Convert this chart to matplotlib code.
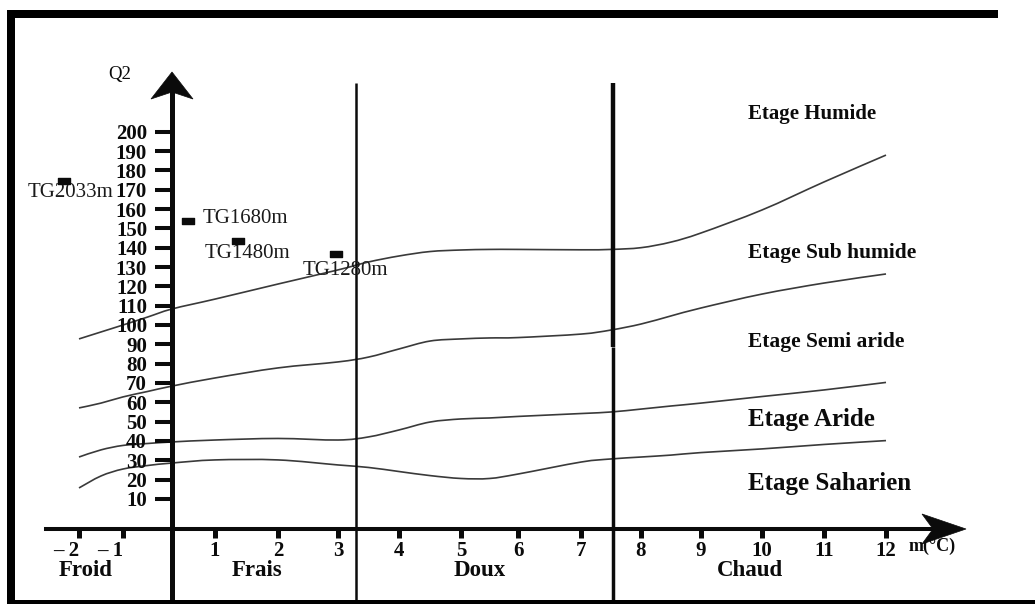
import numpy as np
import matplotlib
matplotlib.use("Agg")
import matplotlib.pyplot as plt
from matplotlib.patches import Rectangle, Polygon, PathPatch
from matplotlib.transforms import ScaledTranslation
from matplotlib.path import Path

# ---------------------------------------------------------------
# Emberger climagram: pluviothermic quotient Q2 against m (°C)
# ---------------------------------------------------------------
q2_ticks = list(range(10, 210, 10))
m_ticks = [-2, -1, 1, 2, 3, 4, 5, 6, 7, 8, 9, 10, 11, 12]
m_tick_labels = ["– 2", "– 1", "1", "2", "3", "4", "5", "6", "7", "8",
                 "9", "10", "11", "12"]

# bioclimatic stage limits, sampled along m
curve_m = [-2, -1.5, -1, -0.5, 0, 1, 2, 3, 3.5, 4, 4.5, 5, 5.5, 6,
           7, 7.5, 8, 8.5, 9, 10, 11, 12]
limit_humide = [92.8, 96.4, 100.0, 104.1, 108.3, 113.4, 121.2, 128.5, 132.6,
                135.7, 138.0, 138.8, 139.1, 139.1, 138.9, 139.1, 140.0,
                142.9, 147.6, 159.5, 174.0, 187.9]
limit_subhumide = [57.1, 59.6, 62.8, 65.6, 68.4, 72.6, 77.8, 80.9, 83.4,
                   87.6, 91.7, 92.8, 93.3, 93.5, 95.3, 97.4, 100.5, 104.7,
                   108.8, 116.0, 121.7, 126.4]
limit_semiaride = [31.7, 35.4, 37.7, 38.7, 39.5, 40.5, 41.3, 40.5, 42.1,
                   45.7, 49.8, 51.4, 51.9, 52.7, 54.2, 55.0, 56.5, 58.1,
                   59.6, 63.0, 66.4, 70.3]
limit_aride = [15.7, 21.9, 25.5, 27.3, 28.6, 30.2, 30.2, 27.6, 26.3, 24.2,
               22.1, 20.6, 20.6, 22.9, 29.1, 30.7, 31.7, 32.7, 34.0, 35.9,
               38.2, 40.2]

# stations
stations = ["TG2033m", "TG1680m", "TG1480m", "TG1280m"]
station_m = [-2.34, 0.37, 1.36, 2.96]
station_q2 = [174.5, 153.8, 143.5, 136.7]

stages = ["Etage Humide", "Etage Sub humide", "Etage Semi aride",
          "Etage Aride", "Etage Saharien"]
zones = ["Froid", "Frais", "Doux", "Chaud"]

# ---------------------------------------------------------------
# layout
# ---------------------------------------------------------------
W, H, DPI = 1035, 604, 100
# hand-spaced temperature axis: m value -> horizontal pixel
M_ANCHOR = np.array([-4, -2, -1, 0, 1, 2, 3, 4, 5, 6, 7, 8, 9, 10, 11, 12, 15], float)
PX_ANCHOR = np.array([-9, 79, 123, 172, 215, 278, 338, 399, 461, 518, 581,
                      641, 701, 762, 824, 886, 1072], float)
Q2_ZERO_PX, PX_PER_Q2 = 518.3, 1.933

ZONE_LIMITS = [3.3, 7.53]
ZONE_LABEL_M = [-1.86, 1.67, 5.32, 9.8]
STAGE_LABEL_Q2 = [209.2, 137.3, 91.3, 51.0, 17.8]
STAGE_LABEL_SIZE = [15, 15.5, 15.5, 18, 18]
STATION_OFFSETS = [((4.3, -8.6), "center"), ((10.8, 1.6), "left"),
                   ((7.2, -9.2), "center"), ((6.8, -12.0), "center")]

plt.rcParams["font.family"] = ["Liberation Serif", "DejaVu Serif"]


def m_to_px(m):
    return np.interp(m, M_ANCHOR, PX_ANCHOR)


def px_to_m(p):
    return np.interp(p, PX_ANCHOR, M_ANCHOR)


def q2_at(px_y):
    return (Q2_ZERO_PX - px_y) / PX_PER_Q2


fig = plt.figure(figsize=(W / DPI, H / DPI), dpi=DPI)
fig.patch.set_facecolor("white")
ax = fig.add_axes([0, 0, 1, 1])
ax.set_xscale("function", functions=(m_to_px, px_to_m))
ax.set_xlim(px_to_m(0), px_to_m(W))
ax.set_ylim(q2_at(H), q2_at(0))
ax.set_facecolor("white")

INK = "#0b0b0b"
CURVE = "#3a3a3a"

# axes drawn as spines crossing at m = 0
for side in ("top", "right"):
    ax.spines[side].set_visible(False)
ax.spines["left"].set_position(("data", 0))
ax.spines["left"].set_bounds(q2_at(H), q2_at(93))
ax.spines["left"].set_linewidth(3.6)
ax.spines["left"].set_color(INK)
ax.spines["bottom"].set_position(("data", q2_at(529)))
ax.spines["bottom"].set_bounds(px_to_m(46), px_to_m(935))
ax.spines["bottom"].set_linewidth(2.9)
ax.spines["bottom"].set_color(INK)

ax.set_yticks(q2_ticks)
ax.set_yticklabels([str(v) for v in q2_ticks], fontweight="bold")
ax.tick_params(axis="y", direction="out", length=12.2, width=2.9, pad=5.8,
               labelsize=15, color=INK, labelcolor=INK)
ax.set_xticks(m_ticks)
ax.set_xticklabels(m_tick_labels, fontweight="bold")
ax.tick_params(axis="x", direction="out", length=6.5, width=3.6, pad=2,
               labelsize=15, color=INK, labelcolor=INK)
ax.minorticks_off()
for lbl, v in zip(ax.get_xticklabels(), m_ticks):
    if v < 0:
        lbl.set_ha("right")


def arrow_head(x, y, verts_px):
    tr = fig.dpi_scale_trans + ScaledTranslation(x, y, ax.transData)
    ax.add_patch(Polygon(np.array(verts_px, float) / DPI, closed=True,
                         transform=tr, facecolor=INK, edgecolor=INK,
                         lw=0.5, clip_on=False, zorder=5))


arrow_head(px_to_m(966), q2_at(529), [(0, 0), (-44, 15), (-33, 0), (-44, -15)])
arrow_head(0, q2_at(72), [(0, 0), (-21, -27), (0, -20), (21, -27)])

# temperature zone limits
ax.plot([ZONE_LIMITS[0]] * 2, [q2_at(H), q2_at(83)], color=INK, lw=1.8,
        solid_capstyle="butt")
ax.plot([ZONE_LIMITS[1]] * 2, [q2_at(347), q2_at(83)], color=INK, lw=3.2,
        solid_capstyle="butt")
ax.plot([ZONE_LIMITS[1]] * 2, [q2_at(H), q2_at(347)], color=INK, lw=2.5,
        solid_capstyle="butt")


def smooth_line(xs, ys, **kw):
    """Draw a Catmull-Rom spline through the given points as cubic Beziers."""
    px = m_to_px(np.asarray(xs, float))
    py = np.asarray(ys, float)
    pts = np.column_stack([px, py])
    ext = np.vstack([pts[0], pts, pts[-1]])
    verts = [pts[0]]
    codes = [Path.MOVETO]
    for i in range(len(pts) - 1):
        p0, p1, p2, p3 = ext[i], ext[i + 1], ext[i + 2], ext[i + 3]
        c1 = p1 + (p2 - p0) / 6.0
        c2 = p2 - (p3 - p1) / 6.0
        verts += [c1, c2, p2]
        codes += [Path.CURVE4] * 3
    verts = np.array(verts)
    verts[:, 0] = px_to_m(verts[:, 0])
    ax.add_patch(PathPatch(Path(verts, codes), facecolor="none", **kw))


# stage limits
for series in (limit_humide, limit_subhumide, limit_semiaride, limit_aride):
    smooth_line(curve_m, series, edgecolor=CURVE, lw=1.2)

# stations
rect_marker = Path([(-1, -0.5), (1, -0.5), (1, 0.5), (-1, 0.5), (-1, -0.5)],
                   [Path.MOVETO, Path.LINETO, Path.LINETO, Path.LINETO,
                    Path.CLOSEPOLY])
ax.plot(station_m, station_q2, ls="none", marker=rect_marker, ms=8.5,
        color=INK, zorder=4)
for name, m, q, (off, ha) in zip(stations, station_m, station_q2, STATION_OFFSETS):
    ax.annotate(name, (m, q), xytext=off, textcoords="offset points",
                ha=ha, va="center", fontsize=15, color="#1a1a1a")

# stage names
for name, q, fs in zip(stages, STAGE_LABEL_Q2, STAGE_LABEL_SIZE):
    ax.text(px_to_m(748), q, name, ha="left", va="center", fontsize=fs,
            fontweight="bold", color=INK)

# temperature zone names
for name, m in zip(zones, ZONE_LABEL_M):
    ax.text(m, q2_at(571), name, ha="center", va="center", fontsize=16.5,
            fontweight="bold", color=INK)

ax.text(px_to_m(909), q2_at(546), "m(°C)", ha="left", va="center",
        fontsize=13, fontweight="semibold", color=INK)
ax.text(px_to_m(120), q2_at(75), "Q2", ha="center", va="center",
        fontsize=13.5, color=INK)

# frame
def frame_bar(x0, y0, x1, y1):
    fig.add_artist(Rectangle((x0 / W, 1 - y1 / H), (x1 - x0) / W, (y1 - y0) / H,
                             transform=fig.transFigure, facecolor="black",
                             edgecolor="none", zorder=10))


frame_bar(7, 10, 998, 18)
frame_bar(7, 10, 15, H)
frame_bar(7, 600, W, H)

fig.savefig("out.png", dpi=DPI, facecolor="white")
